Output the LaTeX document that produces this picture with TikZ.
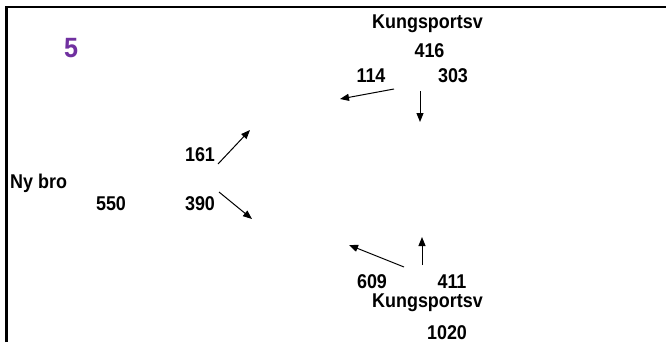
\documentclass[tikz,border=0pt]{standalone}
\usepackage{fontspec}
\setmainfont{Liberation Sans}
\newfontfamily\flowfont{Liberation Sans}[FakeStretch=0.9]
\usetikzlibrary{arrows.meta}
\definecolor{numpurple}{RGB}{112,48,160}
\begin{document}
\begin{tikzpicture}[x=1bp, y=-1bp, >={Triangle[length=9bp,width=7bp]},
  flow/.style={font=\flowfont\fontsize{20}{22}\selectfont\bfseries, inner sep=0pt, anchor=base},
  turn/.style={->, line width=1bp}]
  \useasboundingbox (0,0) rectangle (666,342);
  % frame, open at the bottom and right
  \draw[line width=2.5bp] (6.5,342) -- (6.5,7) -- (666,7);
  % slide number
  \node[flow, text=numpurple, font=\flowfont\fontsize{28}{30}\selectfont\bfseries] (num) at (71,57) {5};
  % north arm: Kungsportsv
  \node[flow] (northname) at (427.5,28) {Kungsportsv};
  \node[flow] (northtot) at (429.5,57) {416};
  \node[flow] (northright) at (371,82) {114};
  \node[flow] (northstraight) at (453,82) {303};
  \coordinate (nr0) at (394,89);  \coordinate (nr1) at (340,99);
  \coordinate (ns0) at (420,91);  \coordinate (ns1) at (420,122);
  \draw[turn] (nr0) -- (nr1);
  \draw[turn] (ns0) -- (ns1);
  % west arm: Ny bro
  \node[flow, anchor=base west] (westname) at (10,188) {Ny bro};
  \node[flow] (westtot) at (111,210) {550};
  \node[flow] (westleft) at (200,161) {161};
  \node[flow] (westright) at (200,210) {390};
  \coordinate (wl0) at (218,164); \coordinate (wl1) at (250,130);
  \coordinate (wr0) at (219,192); \coordinate (wr1) at (252,219);
  \draw[turn] (wl0) -- (wl1);
  \draw[turn] (wr0) -- (wr1);
  % south arm: Kungsportsv
  \node[flow] (southleft) at (372,288) {609};
  \node[flow] (southstraight) at (452,288) {411};
  \node[flow] (southname) at (427.5,307) {Kungsportsv};
  \node[flow] (southtot) at (447,339) {1020};
  \coordinate (sl0) at (404,267); \coordinate (sl1) at (349,245);
  \coordinate (ss0) at (422,265); \coordinate (ss1) at (422,237);
  \draw[turn] (sl0) -- (sl1);
  \draw[turn] (ss0) -- (ss1);
\end{tikzpicture}
\end{document}
